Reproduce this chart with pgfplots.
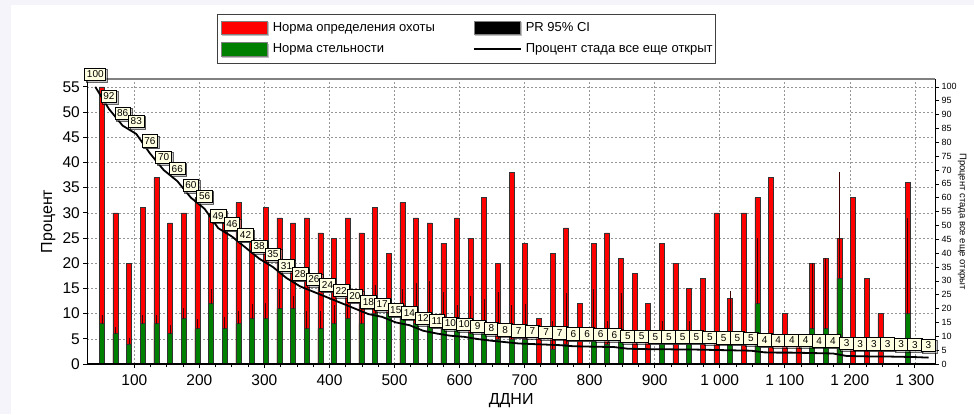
\documentclass[border=0pt]{standalone}
\usepackage{pgfplots}
\pgfplotsset{compat=1.18}
\usepackage{pgfplotstable}
\usepackage{fontspec}
\setmainfont{Liberation Sans}
\usetikzlibrary{shadows}
\definecolor{barred}{RGB}{255,0,0}
\definecolor{bargreen}{RGB}{0,128,0}
\definecolor{lblfill}{RGB}{255,255,225}
\definecolor{gridgray}{RGB}{150,150,150}
\definecolor{bgstrip}{RGB}{244,244,250}

\pgfplotstableread{
x r
50 55
71 30
92 20
113 31
134 37
155 28
176 30
197 33
218 30
239 28
260 32
281 25
302 31
323 29
344 28
365 29
386 26
407 25
428 29
449 26
470 31
491 22
512 32
533 29
554 28
575 24
596 29
617 25
638 33
659 20
680 38
701 24
722 9
743 22
764 27
785 12
806 24
827 26
848 21
869 18
890 12
911 24
932 20
953 15
974 17
995 30
1016 13
1037 30
1058 33
1079 37
1100 10
1121 5
1142 20
1163 21
1184 25
1205 33
1226 17
1247 10
1289 36
}\redtab

\pgfplotstableread{
x g e
50 8 1.7
71 6 1.3
92 4 1.2
113 8 1.7
134 8 1.7
155 6 1.7
176 9 2.1
197 7 2.0
218 12 2.8
239 7 2.4
260 8 2.6
281 9 2.9
302 9 3.1
323 11 3.8
344 11 2.5
365 7 3.6
386 7 3.6
407 8 3.7
428 9 2.9
449 8 5.0
470 10 5.7
491 10 3.0
512 9 5.8
533 8 8.1
554 8 8.5
575 7 7.3
596 7 4.7
617 6 7.5
638 6 6.8
659 5 9.3
680 5 6.8
701 5 6.9
743 3 5.5
764 4 10.1
806 5 9.8
827 4 4.5
848 5 9.1
911 5 3.5
953 4 4.5
1016 4 10.4
1058 12 13
1142 7 13
1163 7 14
1184 17 21
1289 10 19
}\greentab

\pgfplotstableread{
x y lab
40 100 100
61 92 92
82 86 86
103 83 83
124 76 76
145 70 70
166 66 66
187 60 60
208 56 56
229 49 49
250 46 46
271 42 42
292 38 38
313 35 35
334 31 31
355 28 28
376 26 26
397 24 24
418 22 22
439 20 20
460 18 18
481 17 17
502 15 15
523 14 14
544 12 12
565 11 11
586 10.2 10
607 9.8 10
628 9.0 9
649 8.4 8
670 7.9 8
691 7.4 7
712 7.2 7
733 7.0 7
754 6.8 7
775 6.4 6
796 6.3 6
817 6.2 6
838 6.1 6
859 5.5 5
880 5.4 5
901 5.3 5
922 5.3 5
943 5.2 5
964 5.2 5
985 5.1 5
1006 5.0 5
1027 4.9 5
1048 4.8 5
1069 4.2 4
1090 4.1 4
1111 4.1 4
1132 4.0 4
1153 3.9 4
1174 3.8 4
1195 2.9 3
1216 2.8 3
1237 2.7 3
1258 2.7 3
1279 2.6 3
1300 2.5 3
1321 2.3 3
}\curvetab

\begin{document}
\begin{tikzpicture}[x=1bp,y=1bp]
\path[use as bounding box] (0,0) rectangle (974,414);
\fill[bgstrip] (0,0) rectangle (974,414);
\fill[white] (11,0) rectangle (974,409);

\begin{axis}[
  at={(87.3bp,50bp)}, anchor=south west,
  scale only axis, width=847.7bp, height=285bp,
  xmin=27.7, xmax=1331, ymin=0, ymax=56.55,
  axis line style={draw=none},
  tick pos=left, tick align=outside,
  major tick length=4bp, minor tick length=3bp,
  tick style={black, line width=0.8bp},
  xtick={100,200,...,1300},
  xticklabels={100,200,300,400,500,600,700,800,900,1 000,1 100,1 200,1 300},
  minor x tick num=3,
  ytick={0,5,...,55},
  grid=major,
  major grid style={gridgray, dash pattern=on 2bp off 2bp, line width=0.6bp},
  /pgf/number format/assume math mode=true,
  ticklabel style={font=\fontsize{15.5bp}{17bp}\selectfont},
  xticklabel style={yshift=-3bp},
  xlabel={ДДНИ},
  every axis x label/.style={at={(axis description cs:0.5,-0.1298)}, anchor=center, font=\fontsize{16bp}{18bp}\selectfont},
  ylabel={Процент},
  every axis y label/.style={at={(axis description cs:-0.0460,0.5)}, anchor=center, rotate=90, font=\fontsize{16bp}{18bp}\selectfont},
  legend columns=2,
  legend cell align=left,
  legend style={at={(0.153,1.228)}, anchor=north west, draw=black!75, line width=1bp,
    fill=white, inner xsep=3bp, inner ysep=6bp, row sep=6bp, column sep=4bp,
    font=\fontsize{13bp}{15bp}\selectfont, nodes={inner sep=0pt}},
  after end axis/.code={
    \draw[black!50, line width=2bp] (rel axis cs:0,1) -- (rel axis cs:1,1);
    \draw[black, line width=1.6bp] (rel axis cs:0,1) -- (rel axis cs:0,0) -- (rel axis cs:1,0);
  },
]
\addlegendimage{legend image code/.code={\fill[black!25] (1.5bp,-8.2bp) rectangle (47.5bp,5.2bp); \draw[fill=barred, draw=black!50, line width=0.6bp] (0bp,-6.7bp) rectangle (46bp,6.7bp);}}
\addlegendentry{\makebox[196bp][l]{Норма определения охоты}}
\addlegendimage{legend image code/.code={\fill[black!25] (1.5bp,-8.2bp) rectangle (47.5bp,5.2bp); \draw[fill=black, draw=black!50, line width=0.6bp] (0bp,-6.7bp) rectangle (46bp,6.7bp);}}
\addlegendentry{PR 95\% CI}
\addlegendimage{legend image code/.code={\fill[black!25] (1.5bp,-8.2bp) rectangle (47.5bp,5.2bp); \draw[fill=bargreen, draw=black!50, line width=0.6bp] (0bp,-6.7bp) rectangle (46bp,6.7bp);}}
\addlegendentry{\makebox[196bp][l]{Норма стельности}}
\addlegendimage{legend image code/.code={\draw[draw=none, fill=none] (0bp,-6.7bp) rectangle (47bp,6.7bp); \draw[black, line width=2bp] (0bp,0bp) -- (47bp,0bp);}}
\addlegendentry{Процент стада все еще открыт}

\addplot[ybar, bar width=5bp, bar shift=0pt, fill=barred, draw=black!80, line width=0.55bp, forget plot]
  table[x=x, y=r]{\redtab};
\addplot[ybar, bar width=5bp, bar shift=0pt, fill=bargreen, draw=black!80, line width=0.55bp, forget plot,
  error bars/.cd, y dir=plus, y explicit, error mark=none,
  error bar style={line width=0.6bp, black!75!red}]
  table[x=x, y=g, y error=e]{\greentab};
\end{axis}

\begin{axis}[
  at={(87.3bp,50bp)}, anchor=south west,
  scale only axis, width=847.7bp, height=285bp,
  xmin=27.7, xmax=1331, ymin=0, ymax=102.82,
  axis x line=none,
  axis y line*=right,
  y axis line style={line width=0.8bp, -},
  tick align=outside,
  major tick length=4bp,
  tick style={black, line width=0.6bp},
  ytick={0,5,...,100},
  /pgf/number format/assume math mode=true,
  yticklabel style={font=\fontsize{9bp}{10bp}\selectfont, xshift=-1bp},
  ylabel={Процент стада все еще открыт},
  every axis y label/.style={at={(axis description cs:1.0319,0.5)}, anchor=center, rotate=-90, font=\fontsize{9.5bp}{11bp}\selectfont},
  clip=false,
]
\addplot[black, line width=1.8bp,
  nodes near coords, point meta=explicit symbolic,
  nodes near coords style={anchor=center, yshift=12.5bp, fill=lblfill, draw=black, line width=0.7bp,
    inner xsep=2.2bp, inner ysep=0pt, minimum width=14.5bp, minimum height=12.5bp,
    font=\fontsize{10bp}{10bp}\selectfont, text=black,
    drop shadow={shadow xshift=1.5bp, shadow yshift=-1.5bp, fill=black!35, opacity=0.6}}]
  table[x=x, y=y, meta=lab]{\curvetab};
\end{axis}
\end{tikzpicture}
\end{document}
